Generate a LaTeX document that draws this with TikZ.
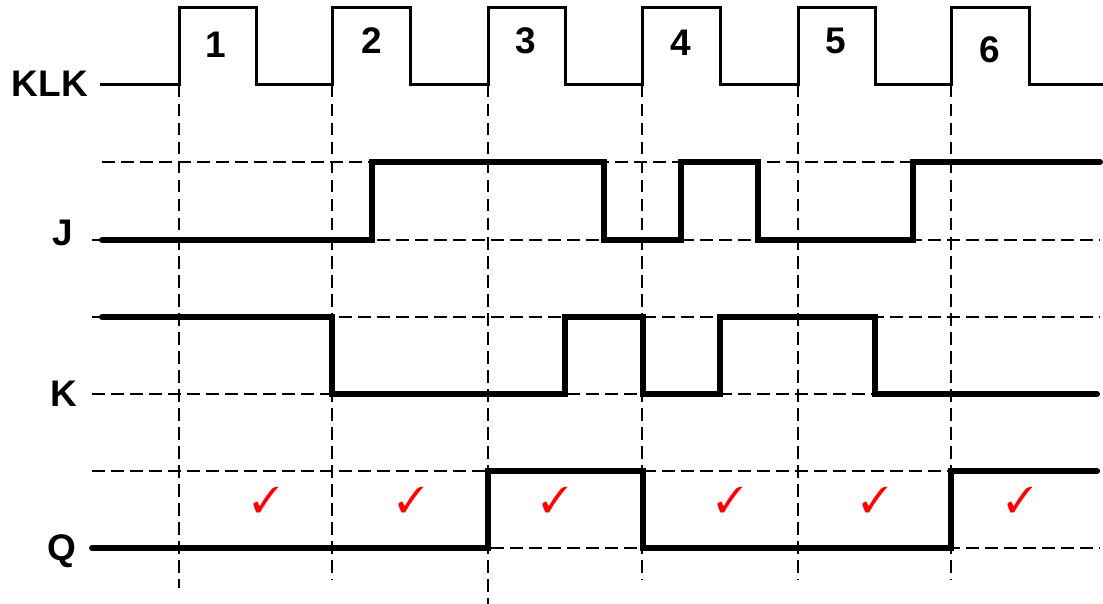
\documentclass[tikz,border=0pt]{standalone}
\usepackage{fontspec}
\setmainfont{Liberation Sans}
\usepackage{pifont}
\begin{document}
\begin{tikzpicture}[x=1pt,y=-1pt,
  grid/.style={line width=1.3pt, dash pattern=on 12.5pt off 6.5pt},
  clk/.style={line width=3pt, line join=miter},
  sig/.style={line width=6pt, line cap=round, line join=miter},
  lbl/.style={font=\fontsize{37}{37}\selectfont\bfseries, inner sep=0pt, anchor=base east},
  num/.style={font=\fontsize{37}{37}\selectfont\bfseries, inner sep=0pt},
  chk/.style={text=red, font=\fontsize{36}{36}\selectfont, inner sep=0pt}]
\useasboundingbox (0,0) rectangle (1103,604);
% horizontal reference lines
\draw[grid] (102,162) -- (1100,162);
\draw[grid] (92,240) -- (1100,240);
\draw[grid] (92,317) -- (1100,317);
\draw[grid] (92,394) -- (1100,394);
\draw[grid] (92,471) -- (1100,471);
\draw[grid] (92,548) -- (1100,548);
% vertical reference lines at rising clock edges
\draw[grid] (179,85) -- (179,588);
\draw[grid] (332,85) -- (332,580);
\draw[grid] (488,85) -- (488,604);
\draw[grid] (642,85) -- (642,580);
\draw[grid] (798,85) -- (798,580);
\draw[grid] (951,85) -- (951,580);
% clock
\draw[clk] (100,85) -- (179,85) -- (179,8) -- (256,8) -- (256,85)
  -- (332,85) -- (332,8) -- (410,8) -- (410,85)
  -- (488,85) -- (488,8) -- (565,8) -- (565,85)
  -- (642,85) -- (642,8) -- (720,8) -- (720,85)
  -- (798,85) -- (798,8) -- (875,8) -- (875,85)
  -- (951,85) -- (951,8) -- (1029,8) -- (1029,85) -- (1103,85);
% J
\draw[sig] (102,240) -- (372,240) -- (372,162) -- (604,162) -- (604,240)
  -- (681,240) -- (681,162) -- (758,162) -- (758,240)
  -- (913,240) -- (913,162) -- (1100,162);
% K
\draw[sig] (102,317) -- (332,317) -- (332,394) -- (565,394) -- (565,317)
  -- (643,317) -- (643,394) -- (720,394) -- (720,317)
  -- (875,317) -- (875,394) -- (1097,394);
% Q
\draw[sig] (92,548) -- (488,548) -- (488,471) -- (643,471) -- (643,548)
  -- (951,548) -- (951,471) -- (1097,471);
% labels
\node[lbl] (lklk) at (88,97) {KLK};
\node[lbl] (lj) at (73,246) {J};
\node[lbl] (lk) at (77,406) {K};
\node[lbl] (lq) at (76,560) {Q};
% pulse numbers
\node[num] (n1) at (216,45) {1};
\node[num] (n2) at (372,41) {2};
\node[num] (n3) at (526,41) {3};
\node[num] (n4) at (681,43) {4};
\node[num] (n5) at (836,41) {5};
\node[num] (n6) at (990,50) {6};
% check marks
\foreach \cx/\nm in {266/c1,411/c2,555/c3,730/c4,875/c5,1020/c6}
  \node[chk] (\nm) at (\cx,500) {\ding{51}};
\end{tikzpicture}
\end{document}
